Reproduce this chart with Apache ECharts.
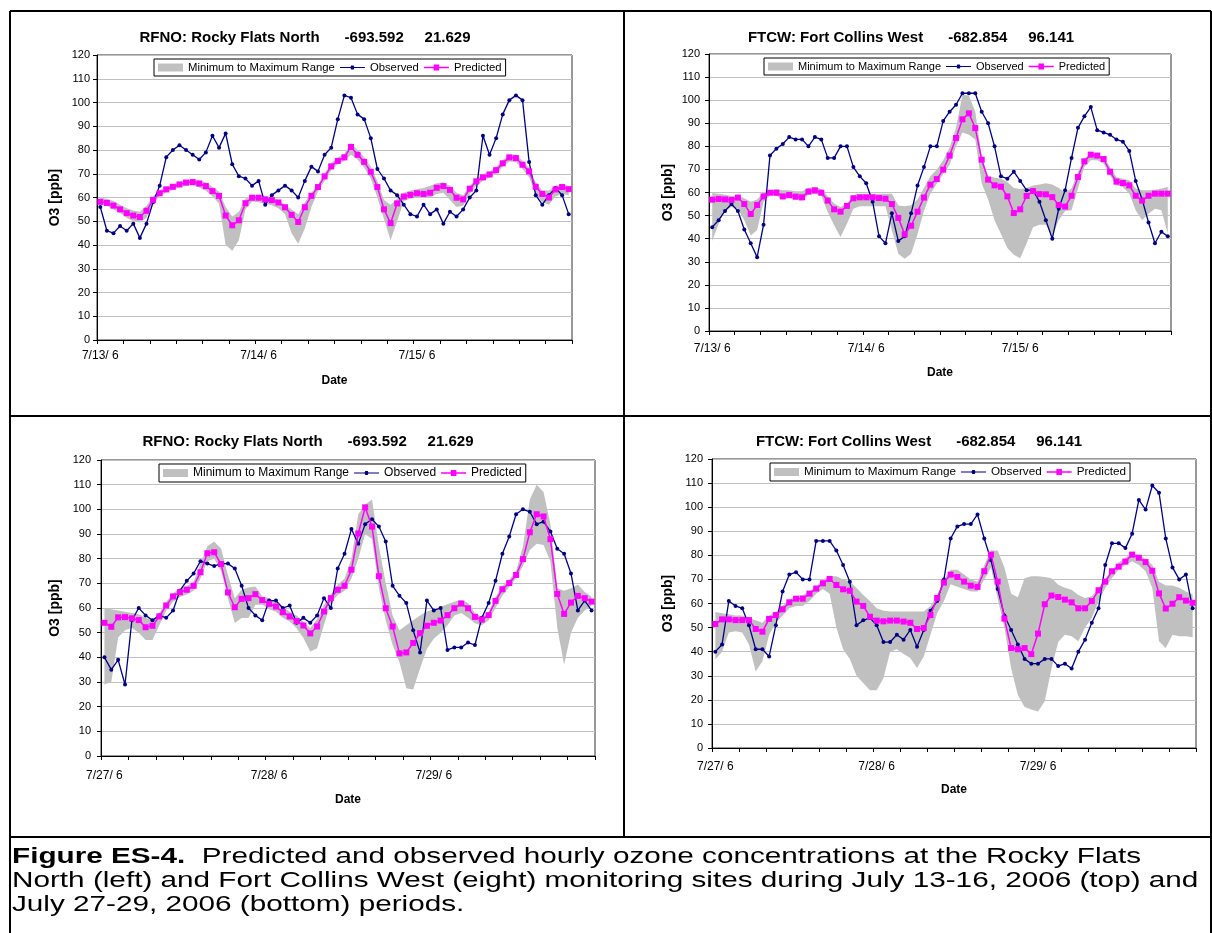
<!DOCTYPE html>
<html>
<head>
<meta charset="utf-8">
<script src="https://cdn.jsdelivr.net/npm/echarts@6/dist/echarts.min.js"></script>
<style>
  html, body { margin: 0; padding: 0; background: #fff; }
  #chart { width: 1212px; height: 933px; }
</style>
</head>
<body>
<div id="chart"></div>
<script>
// --- data ------------------------------------------------------------------
const daysJul13 = ['7/13/ 6', '7/14/ 6', '7/15/ 6']
const daysJul27 = ['7/27/ 6', '7/28/ 6', '7/29/ 6']
const hoursOfDay = [0, 1, 2, 3, 4, 5, 6, 7, 8, 9, 10, 11, 12, 13, 14, 15, 16, 17, 18, 19, 20, 21, 22, 23]
const yMax = 120
const yStep = 10

// RFNO, July 13-15
const rfno13Obs = [56, 46, 45, 48, 46, 49, 43, 49, 58, 65, 77, 80, 82, 80, 78, 76, 79, 86, 81, 87,
  74, 69, 68, 65, 67, 57, 61, 63, 65, 63, 60, 67, 73, 71, 78, 81, 93, 103, 102, 95,
  93, 85, 72, 68, 63, 61, 57, 53, 52, 57, 53, 55, 49, 54, 52, 55, 60, 63, 86, 78,
  85, 95, 101, 103, 101, 75, 61, 57, 61, 64, 61, 53]
const rfno13Pred = [58.2, 57.7, 56.6, 55, 53.4, 52.4, 51.8, 54.4, 59, 61.8, 63.4, 64.5, 65.5, 66.3, 66.5, 65.9, 64.8, 62.7, 60.7, 52.4,
  48.3, 50.4, 57.6, 59.9, 59.9, 59.2, 58.9, 57.9, 55.9, 52.7, 49.7, 55.9, 60.7, 64.4, 68.9, 73.1, 75.4, 76.9, 81.3, 78,
  75, 70.8, 64.4, 55, 49.2, 57.5, 60.4, 61.1, 61.8, 61.5, 62, 64.1, 64.8, 63.2, 59.9, 59.2, 63.7, 66.8, 68.5, 69.7,
  71.5, 74.4, 76.9, 76.6, 73.8, 71, 64.5, 61.5, 60, 63.4, 64.4, 63.5]
const rfno13Min = [57, 56.5, 55, 53.5, 51.5, 50, 49.5, 51.5, 57.5, 60.5, 62.2, 63.3, 64.3, 65, 65.2, 64.2, 62.8, 60.5, 57.5, 40,
  37.6, 42, 55, 58.3, 58, 57.3, 56.7, 55.5, 53, 45, 40.5, 47, 56, 62.5, 67, 71.5, 74, 75.5, 78, 76,
  72.5, 68, 60, 51, 42, 50, 58.5, 59.5, 60, 59.8, 60, 61.5, 62, 59, 56, 56.5, 61.5, 65, 67, 68.3,
  70, 72.8, 75.2, 75, 72, 68.5, 61.5, 58, 57, 60.5, 61.5, 61]
const rfno13Max = [59.8, 59.5, 58.5, 57, 55.5, 54.5, 54, 56.5, 60.5, 63, 64.5, 65.5, 66.5, 67.3, 67.5, 67.2, 66.3, 64.5, 62.5, 56,
  52, 54, 59.5, 61, 61, 60.5, 60, 59, 57, 55, 53, 58, 62, 65.5, 70, 74.5, 76.8, 78.5, 83, 80,
  77, 73, 67, 59, 57, 59.5, 62, 63, 63.5, 64, 65, 66, 66.3, 65, 62, 61, 65, 68, 69.8, 71,
  73, 75.8, 78, 78, 75.5, 72.5, 66.5, 63, 63, 65, 65.5, 65]

// FTCW, July 13-15
const ftcw13Obs = [45, 48, 52, 55, 52, 44, 38, 32, 46, 76, 79, 81, 84, 83, 83, 80, 84, 83, 75, 75,
  80, 80, 71, 67, 64, 56, 41, 38, 51, 39, 41, 51, 63, 71, 80, 80, 91, 95, 98, 103,
  103, 103, 95, 90, 80, 67, 66, 69, 65, 61, 61, 56, 48, 40, 53, 61, 75, 88, 93, 97,
  87, 86, 85, 83, 82, 78, 65, 57, 47, 38, 43, 41]
const ftcw13Pred = [56.9, 57.2, 57, 56.8, 57.8, 55, 50.7, 54.6, 58.3, 59.9, 59.9, 58.3, 58.9, 58.2, 57.9, 60.4, 60.9, 59.9, 56.5, 52.7,
  51.7, 54.2, 57.5, 57.9, 57.9, 57.9, 57.6, 57.3, 55, 49, 41.9, 45.6, 51.7, 57.8, 63.4, 65.8, 69.9, 76, 83.6, 91.7,
  94.3, 87.9, 74.2, 65.6, 63.1, 62.5, 58.3, 51.1, 52.7, 58.5, 60.6, 59.3, 59.2, 58, 54.6, 53.9, 58.6, 66.7, 73.5, 76.4,
  76, 74.5, 69, 64.7, 64.1, 63.1, 58.6, 56.5, 58.6, 59.5, 59.5, 59.5]
const ftcw13Min = [39, 46.5, 52.3, 53.7, 53, 48, 41.4, 43.6, 55.9, 58.8, 58.5, 57, 57.5, 56.8, 56.5, 59, 59.5, 58.5, 51.6, 45.8,
  40.7, 46.5, 53, 54, 54, 54, 54, 54, 43.6, 33.5, 31.3, 33.5, 42, 52, 59.5, 63.8, 68, 72, 80, 86,
  85, 83, 64, 57, 48, 42, 36, 33, 31.5, 38, 45, 46, 46, 41, 48, 52, 52.3, 61.7, 71, 74,
  74, 72.5, 67.4, 63.1, 62.4, 59.5, 52.3, 48, 50.8, 53, 52.3, 42.2]
const ftcw13Max = [59.8, 59.5, 59, 58.5, 58.5, 57.5, 56, 57, 60, 61, 61.5, 61, 61, 60.5, 60.5, 62, 62.5, 61.5, 58.5, 55.2,
  53.7, 55.2, 58.8, 59.5, 59.5, 59.5, 59.5, 59.5, 59.5, 54.4, 54, 54.5, 57, 62, 67, 70, 74, 79.5, 88, 102.5,
  102, 95, 75.5, 67, 66.5, 66, 64.5, 62, 61.5, 62, 63, 63.5, 64, 63.5, 62, 60, 61.7, 68.9, 74.7, 76.8,
  76.4, 75.4, 71, 66.7, 66, 65.3, 61.7, 61, 61, 61.2, 61.7, 62.4]

// RFNO, July 27-29
const rfno27Obs = [40, 35, 39, 29, 55, 60, 57, 55, 57, 56, 59, 67, 71, 74, 79, 78, 77, 78, 78, 76,
  69, 60, 57, 55, 63, 63, 60, 61, 54, 56, 54, 57, 64, 60, 76, 82, 92, 86, 94, 96,
  93, 87, 69, 65, 62, 51, 42, 63, 59, 60, 43, 44, 44, 46, 45, 56, 62, 71, 82, 89,
  98, 100, 99, 94, 95, 91, 84, 82, 74, 59, 63, 59]
const rfno27Pred = [54, 52.4, 56.2, 56.3, 55.8, 55.1, 52.2, 52.8, 56.6, 61, 64.7, 66.4, 67.4, 69, 74.5, 82.2, 82.6, 77.8, 66.3, 60.3,
  63.7, 64, 65.6, 63.2, 61.7, 60.6, 58.3, 56.6, 54.7, 52.9, 49.7, 52.5, 58.6, 64, 67.4, 69, 75.5, 90.2, 100.8, 93,
  72.9, 59.9, 52.5, 41.6, 42, 45.8, 49.8, 52.8, 54, 54.9, 57.1, 59.9, 61.8, 59.9, 56.4, 55.3, 57.1, 62.9, 67.6, 70.1,
  73.4, 79.8, 90.7, 98, 97.1, 87.9, 65.7, 57.6, 62.2, 64.9, 64, 62.6]
const rfno27Min = [29, 30, 48, 51, 52, 50, 47, 47, 53, 59, 62.5, 64.5, 65.5, 67, 72, 79, 80, 75, 64, 53.9,
  55.9, 55.9, 61.3, 61.3, 59.5, 58.5, 56, 54.5, 51.8, 47.8, 42.4, 43.7, 53.2, 62, 65.3, 67, 72, 80, 90, 88,
  68, 55, 45, 38, 27.5, 27, 35.5, 43.5, 47.5, 50, 53, 57, 58, 56, 53.8, 53, 55, 60, 65, 68.5,
  72, 77, 83.5, 86, 85.5, 79, 52, 37, 50, 56, 59, 61]
const rfno27Max = [60, 59.5, 59, 58.5, 58, 57.5, 56, 55, 58, 62.5, 66, 68, 69, 70.5, 78, 85, 87, 84, 73.4, 64,
  67.4, 68.3, 68.7, 64.7, 64, 62.5, 60.5, 58.5, 57, 54.5, 51.8, 55.5, 61.3, 65.5, 69.5, 72, 80, 98, 102, 104,
  85, 70, 57, 51, 53, 55, 57, 58.6, 59.5, 60.5, 61.5, 62.5, 63.3, 62, 58, 56.5, 58.5, 64.5, 69, 71.5,
  75, 85, 104, 110, 107, 94, 68, 67, 68, 69.5, 66.5, 64.6]

// FTCW, July 27-29
const ftcw27Obs = [40, 43, 61, 59, 58, 51, 41, 41, 38, 51, 65, 72, 73, 70, 70, 86, 86, 86, 82, 76,
  69, 51, 53, 54, 51, 44, 44, 47, 45, 49, 42, 49, 57, 61, 70, 87, 92, 93, 93, 97,
  87, 78, 66, 55, 49, 43, 37, 35, 35, 37, 37, 34, 35, 33, 40, 45, 52, 58, 76, 85,
  85, 83, 89, 103, 99, 109, 106, 87, 75, 70, 72, 58]
const ftcw27Pred = [51.5, 53.4, 53.4, 53.1, 53.1, 53.1, 49.4, 48.3, 53.6, 55.2, 57.6, 60.5, 62, 62, 64.1, 66.2, 68.4, 70.2, 67.7, 65.9,
  65.3, 60.8, 59, 54.5, 52.9, 52.6, 52.9, 52.9, 52.5, 52, 49.4, 49.8, 55.2, 62.3, 68.7, 72, 71, 69.1, 67.4, 66.9,
  73.4, 80.3, 69.1, 53.7, 41.5, 41, 41.5, 39, 47.5, 59.7, 63.3, 62.7, 61.6, 60.5, 58, 58, 61, 65.5, 69.1, 73.4,
  75.3, 77.4, 80.3, 79, 77.2, 73.6, 64.2, 57.9, 59.9, 62.6, 61.2, 60.3]
const ftcw27Min = [36.7, 40, 48, 48.5, 48, 43, 31.8, 36, 47, 52, 55, 58, 59, 59, 61, 64, 66, 64, 50, 41,
  37, 30, 27, 24, 24, 29, 40, 41, 39, 37.4, 33.2, 38, 47, 56, 61, 68, 67, 66, 65, 65,
  70, 75, 62, 50, 33, 22, 17, 16, 15.2, 19.4, 33, 44, 47, 46.4, 44.3, 50, 54, 61, 66.4, 70.6,
  74, 76, 77.5, 76, 73.4, 66.4, 44.3, 41.5, 47, 46.4, 46.4, 46]
const ftcw27Max = [56.5, 56, 55.5, 55, 55, 54, 53, 52, 55, 56.5, 59, 61.5, 63, 63.5, 65, 67, 70, 71.3, 71.3, 70,
  69.2, 66.4, 63.5, 61, 58, 57, 56.7, 56.7, 56.7, 56.7, 56.7, 56.7, 59, 63.5, 70, 74, 74, 72, 70, 69,
  76, 82, 82, 75, 64, 62.6, 70.5, 71.3, 71.3, 71, 70.5, 67.8, 66.5, 65.7, 63.5, 62.3, 63, 66.4, 70, 74,
  77, 79, 81, 80, 78.5, 76, 69, 67.5, 67.5, 66.5, 65, 63.7]

// --- layout ----------------------------------------------------------------
const FONT = 'Arial, "Liberation Sans", Helvetica, sans-serif'

// legend icons: a line with a small marker in the middle
const OBS_ICON = 'path://M0,3.45H10.6L11.3,2H13.7L14.4,3.45H25V4.55H14.4L13.7,6H11.3L10.6,4.55H0Z'
const PRED_ICON = 'path://M0,3.25H9.7V1H15.3V3.25H25V4.75H15.3V7H9.7V4.75H0Z'

const panels = [
  {
    title: 'RFNO: Rocky Flats North      -693.592     21.629', days: daysJul13,
    obs: rfno13Obs, pred: rfno13Pred, lo: rfno13Min, hi: rfno13Max,
    grid: { left: 97, top: 55, width: 475, height: 285 },
    titleX: 305, titleY: 38, legendLeft: 154, legendTop: 59, legendFont: 11.3,
    xMargin: 10, xNameGap: 35, yMargin: 7, yNameGap: 35,
  },
  {
    title: 'FTCW: Fort Collins West      -682.854     96.141', days: daysJul13,
    obs: ftcw13Obs, pred: ftcw13Pred, lo: ftcw13Min, hi: ftcw13Max,
    grid: { left: 709, top: 54, width: 462, height: 277 },
    titleX: 911, titleY: 38, legendLeft: 764, legendTop: 58, legendFont: 11,
    xMargin: 12, xNameGap: 36, yMargin: 9, yNameGap: 34,
  },
  {
    title: 'RFNO: Rocky Flats North      -693.592     21.629', days: daysJul27,
    obs: rfno27Obs, pred: rfno27Pred, lo: rfno27Min, hi: rfno27Max,
    grid: { left: 101, top: 460, width: 494, height: 296 },
    titleX: 308, titleY: 442, legendLeft: 159, legendTop: 464, legendFont: 12,
    xMargin: 14, xNameGap: 38, yMargin: 10, yNameGap: 39,
  },
  {
    title: 'FTCW: Fort Collins West      -682.854     96.141', days: daysJul27,
    obs: ftcw27Obs, pred: ftcw27Pred, lo: ftcw27Min, hi: ftcw27Max,
    grid: { left: 712, top: 459, width: 484, height: 289 },
    titleX: 919, titleY: 442, legendLeft: 770, legendTop: 463, legendFont: 11.7,
    xMargin: 13, xNameGap: 36, yMargin: 9, yNameGap: 37,
  },
]

const captionLines = [
  '{b|Figure ES-4.}  Predicted and observed hourly ozone concentrations at the Rocky Flats',
  'North (left) and Fort Collins West (eight) monitoring sites during July 13-16, 2006 (top) and',
  'July 27-29, 2006 (bottom) periods.',
]

function hourCategories(days) {
  return days.flatMap((d) => hoursOfDay.map((h) => d + '|' + h))
}

const grids = []
const xAxes = []
const yAxes = []
const legends = []
const series = []
const graphics = []

panels.forEach((p, i) => {
  grids.push({ ...p.grid, show: true, borderColor: '#333', borderWidth: 1, backgroundColor: 'transparent' })

  xAxes.push({
    type: 'category',
    gridIndex: i,
    data: hourCategories(p.days),
    boundaryGap: true,
    axisLine: { lineStyle: { color: '#000', width: 1 } },
    axisTick: { show: true, interval: 3, length: 4, lineStyle: { color: '#000' } },
    axisLabel: {
      interval: 23,
      formatter: (v) => v.split('|')[0],
      color: '#000',
      fontSize: 12,
      fontFamily: FONT,
      margin: p.xMargin,
    },
    splitLine: { show: false },
    name: 'Date',
    nameLocation: 'middle',
    nameGap: p.xNameGap,
    nameTextStyle: { fontWeight: 'bold', fontSize: 12, color: '#000', fontFamily: FONT },
  })

  yAxes.push({
    type: 'value',
    gridIndex: i,
    min: 0,
    max: yMax,
    interval: yStep,
    axisLine: { show: true, lineStyle: { color: '#000', width: 1 } },
    axisTick: { show: true, length: 4, lineStyle: { color: '#000' } },
    axisLabel: { color: '#000', fontSize: 11, fontFamily: FONT, margin: p.yMargin },
    splitLine: { show: true, lineStyle: { color: '#c0c0c0', width: 1 } },
    name: 'O3 [ppb]',
    nameLocation: 'middle',
    nameGap: p.yNameGap,
    nameTextStyle: { fontWeight: 'bold', fontSize: 14, color: '#000', fontFamily: FONT },
  })

  legends.push({
    left: p.legendLeft,
    top: p.legendTop,
    orient: 'horizontal',
    data: [
      { name: 'Minimum to Maximum Range', icon: 'rect' },
      { name: 'Observed', icon: OBS_ICON },
      { name: 'Predicted', icon: PRED_ICON },
    ],
    itemWidth: 25,
    itemHeight: 8,
    itemGap: 5,
    padding: [3, 4],
    borderColor: '#000',
    borderWidth: 1,
    backgroundColor: '#fff',
    selectedMode: false,
    textStyle: { fontSize: p.legendFont, color: '#000', fontFamily: FONT },
  })

  // min-to-max band: invisible base + stacked difference
  series.push({
    name: 'band base ' + i,
    type: 'line',
    xAxisIndex: i,
    yAxisIndex: i,
    data: p.lo,
    stack: 'band' + i,
    symbol: 'none',
    lineStyle: { opacity: 0 },
    silent: true,
    z: 1,
  })
  series.push({
    name: 'Minimum to Maximum Range',
    type: 'line',
    xAxisIndex: i,
    yAxisIndex: i,
    data: p.hi.map((v, k) => +(v - p.lo[k]).toFixed(2)),
    stack: 'band' + i,
    symbol: 'none',
    color: '#c0c0c0',
    itemStyle: { color: '#c0c0c0' },
    lineStyle: { opacity: 0 },
    areaStyle: { color: '#c0c0c0', opacity: 1 },
    silent: true,
    z: 1,
  })
  series.push({
    name: 'Observed',
    type: 'line',
    xAxisIndex: i,
    yAxisIndex: i,
    data: p.obs,
    symbol: 'circle',
    symbolSize: 4,
    showAllSymbol: true,
    color: '#000080',
    itemStyle: { color: '#000080' },
    lineStyle: { color: '#000080', width: 1.3 },
    z: 3,
  })
  series.push({
    name: 'Predicted',
    type: 'line',
    xAxisIndex: i,
    yAxisIndex: i,
    data: p.pred,
    symbol: 'rect',
    symbolSize: 6,
    showAllSymbol: true,
    color: '#ff00ff',
    itemStyle: { color: '#ff00ff' },
    lineStyle: { color: '#ff00ff', width: 1.5 },
    z: 4,
  })

  graphics.push({
    type: 'text',
    x: p.titleX,
    y: p.titleY,
    style: {
      text: p.title,
      fontSize: 15,
      fontWeight: 'bold',
      fontFamily: FONT,
      fill: '#000',
      align: 'center',
      verticalAlign: 'middle',
      textAlign: 'center',
      textVerticalAlign: 'middle',
    },
  })
})

// table rules around the four panels
const rule = { stroke: '#000', lineWidth: 2 }
graphics.push(
  { type: 'line', shape: { x1: 10, y1: 11, x2: 1211, y2: 11 }, style: rule },
  { type: 'line', shape: { x1: 10, y1: 11, x2: 10, y2: 933 }, style: rule },
  { type: 'line', shape: { x1: 1211, y1: 11, x2: 1211, y2: 933 }, style: rule },
  { type: 'line', shape: { x1: 624, y1: 11, x2: 624, y2: 837 }, style: rule },
  { type: 'line', shape: { x1: 10, y1: 416, x2: 1211, y2: 416 }, style: rule },
  { type: 'line', shape: { x1: 10, y1: 837, x2: 1211, y2: 837 }, style: rule },
)

captionLines.forEach((line, k) => {
  graphics.push({
    type: 'text',
    x: 12,
    y: 857 + k * 23.8,
    scaleX: 1.32,
    style: {
      text: line,
      fontSize: 22.5,
      fontFamily: FONT,
      fill: '#000',
      verticalAlign: 'middle',
      textVerticalAlign: 'middle',
      rich: { b: { fontSize: 22.5, fontFamily: FONT, fontWeight: 'bold', fill: '#000' } },
    },
  })
})

const chart = echarts.init(document.getElementById('chart'), null, { renderer: 'canvas' })
chart.setOption({
  animation: false,
  backgroundColor: '#fff',
  textStyle: { fontFamily: FONT },
  grid: grids,
  xAxis: xAxes,
  yAxis: yAxes,
  legend: legends,
  series: series,
  graphic: graphics,
})
</script>
</body>
</html>
